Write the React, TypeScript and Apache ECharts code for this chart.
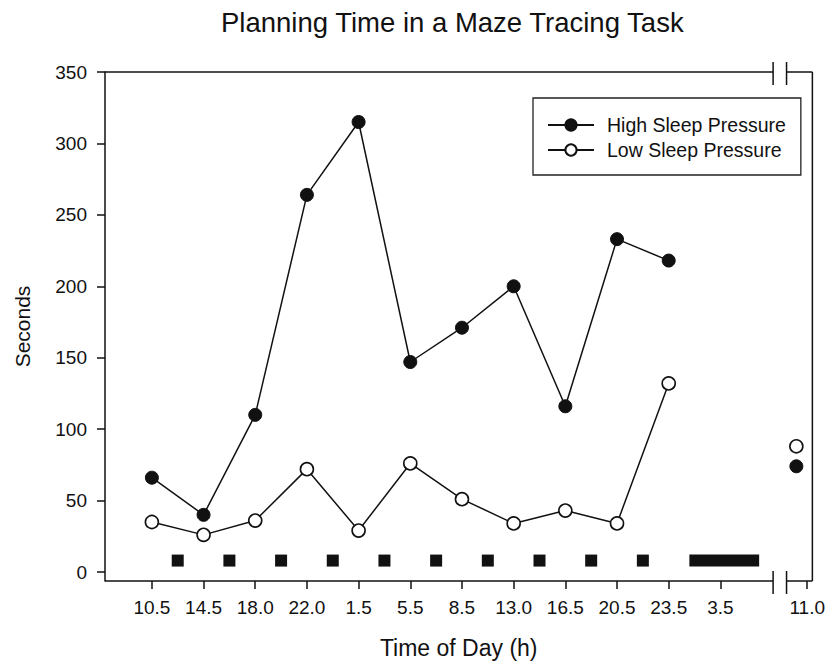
import React, { useEffect, useRef } from "react";
import * as echarts from "echarts";

// ---- data ----
const tickLabels = ["10.5", "14.5", "18.0", "22.0", "1.5", "5.5", "8.5", "13.0", "16.5", "20.5", "23.5", "3.5", "11.0"];
const tickPositions = [0, 1, 2, 3, 4, 5, 6, 7, 8, 9, 10, 11, 12.68];
const highSleep = [66, 40, 110, 264, 315, 147, 171, 200, 116, 233, 218];
const lowSleep = [35, 26, 36, 72, 29, 76, 51, 34, 43, 34, 132];
const followUpPosition = 12.47;
const highFollowUp = 74;
const lowFollowUp = 88;
const napPositions = [0.5, 1.5, 2.5, 3.5, 4.5, 5.5, 6.5, 7.5, 8.5, 9.5];
const napLevel = 8;
const recoverySleep = [10.4, 11.75];
const yTicks = [0, 50, 100, 150, 200, 250, 300, 350];
const axisBreak = [12.02, 12.28];
const xMin = -0.907;
const xMax = 12.78;
const yMin = -6.3;
const yMax = 350;

const FONT = "'Liberation Sans', Arial, Helvetica, sans-serif";
const INK = "#111";

export default function App() {
  const ref = useRef<HTMLDivElement>(null);

  useEffect(() => {
    if (!ref.current) return;
    const chart = echarts.init(ref.current, undefined, { renderer: "svg" });

    const highData: any[] = highSleep.map((v, i) => [tickPositions[i], v]);
    highData.push([11, "-"], [followUpPosition, highFollowUp]);
    const lowData: any[] = lowSleep.map((v, i) => [tickPositions[i], v]);
    lowData.push([11, "-"], [followUpPosition, lowFollowUp]);

    const option: any = {
      animation: false,
      backgroundColor: "#fff",
      textStyle: { fontFamily: FONT, color: INK },
      title: {
        text: "Planning Time in a Maze Tracing Task",
        left: 221,
        top: 8,
        padding: 0,
        textStyle: { fontFamily: FONT, fontSize: 27.5, fontWeight: "normal", color: INK },
      },
      legend: {
        data: ["High Sleep Pressure", "Low Sleep Pressure"],
        orient: "vertical",
        left: 533,
        top: 98,
        padding: [17, 15, 15, 14],
        borderColor: "#222",
        borderWidth: 1.3,
        itemWidth: 46,
        itemHeight: 14,
        itemGap: 5,
        selectedMode: false,
        textStyle: { fontFamily: FONT, fontSize: 19.5, lineHeight: 20, color: INK, padding: [0, 0, 0, 8] },
      },
      grid: { left: 105, right: 14, top: 72, bottom: 81, containLabel: false },
      xAxis: {
        type: "value",
        min: xMin,
        max: xMax,
        name: "Time of Day (h)",
        nameLocation: "middle",
        nameGap: 55,
        nameTextStyle: { fontFamily: FONT, fontSize: 23, color: INK },
        axisLine: { show: false, onZero: false },
        splitLine: { show: false },
        axisTick: {
          show: true,
          length: 8,
          customValues: tickPositions,
          lineStyle: { color: INK, width: 1.5 },
        },
        axisLabel: {
          show: true,
          customValues: tickPositions,
          margin: 17,
          fontFamily: FONT,
          fontSize: 19,
          color: INK,
          formatter: (v: number) => {
            const i = tickPositions.findIndex((p) => Math.abs(p - v) < 1e-6);
            return i >= 0 ? tickLabels[i] : "";
          },
        },
      },
      yAxis: {
        type: "value",
        min: yMin,
        max: yMax,
        name: "Seconds",
        nameLocation: "middle",
        nameGap: 72,
        nameTextStyle: { fontFamily: FONT, fontSize: 21, color: INK },
        axisLine: { show: true, onZero: false, lineStyle: { color: INK, width: 1.5 } },
        splitLine: { show: false },
        axisTick: { show: true, length: 8, customValues: yTicks, lineStyle: { color: INK, width: 1.5 } },
        axisLabel: {
          show: true,
          customValues: yTicks,
          margin: 18,
          fontFamily: FONT,
          fontSize: 19,
          color: INK,
        },
      },
      series: [
        {
          name: "High Sleep Pressure",
          type: "line",
          data: highData,
          connectNulls: false,
          symbol: "circle",
          symbolSize: 13,
          showSymbol: true,
          lineStyle: { color: INK, width: 1.5 },
          itemStyle: { color: INK, borderColor: INK, borderWidth: 1 },
          z: 3,
        },
        {
          name: "Low Sleep Pressure",
          type: "line",
          data: lowData,
          connectNulls: false,
          symbol: "circle",
          symbolSize: 13,
          showSymbol: true,
          lineStyle: { color: INK, width: 1.5 },
          itemStyle: { color: "#fff", borderColor: INK, borderWidth: 1.6 },
          z: 4,
        },
        {
          name: "Naps",
          type: "scatter",
          data: napPositions.map((x) => [x, napLevel]),
          symbol: "rect",
          symbolSize: 12,
          itemStyle: { color: INK, opacity: 1 },
          silent: true,
        },
        {
          name: "Recovery sleep",
          type: "custom",
          data: [[recoverySleep[0], recoverySleep[1], napLevel]],
          encode: { x: [0, 1], y: 2 },
          silent: true,
          renderItem: (params: any, api: any) => {
            const s = api.coord([api.value(0), api.value(2)]);
            const e = api.coord([api.value(1), api.value(2)]);
            return {
              type: "rect",
              shape: { x: s[0], y: s[1] - 6, width: e[0] - s[0], height: 12 },
              style: { fill: INK },
            };
          },
        },
      ],
    };

    chart.setOption(option);

    // frame (top, right, bottom axis) with the axis break
    const px = (v: number) => chart.convertToPixel({ xAxisIndex: 0 }, v) as number;
    const py = (v: number) => chart.convertToPixel({ yAxisIndex: 0 }, v) as number;
    const xL = px(xMin);
    const xR = px(xMax);
    const b1 = px(axisBreak[0]);
    const b2 = px(axisBreak[1]);
    const yT = py(yMax);
    const yB = py(yMin);
    const ls = { stroke: INK, lineWidth: 1.5 };
    const seg = (x1: number, y1: number, x2: number, y2: number) => ({
      type: "line",
      shape: { x1, y1, x2, y2 },
      style: ls,
      silent: true,
    });
    chart.setOption({
      graphic: [
        seg(xL, yT, b1, yT),
        seg(b2, yT, xR, yT),
        seg(xR, yT, xR, yB),
        seg(xL, yB, b1, yB),
        seg(b2, yB, xR, yB),
        seg(b1, yT - 10, b1, yT + 13),
        seg(b2, yT - 10, b2, yT + 13),
        seg(b1, yB - 10, b1, yB + 13),
        seg(b2, yB - 10, b2, yB + 13),
      ],
    });

    return () => chart.dispose();
  }, []);

  return (
    <div
      ref={ref}
      style={{ position: "fixed", left: 0, top: 0, width: 828, height: 664, background: "#fff" }}
    />
  );
}
